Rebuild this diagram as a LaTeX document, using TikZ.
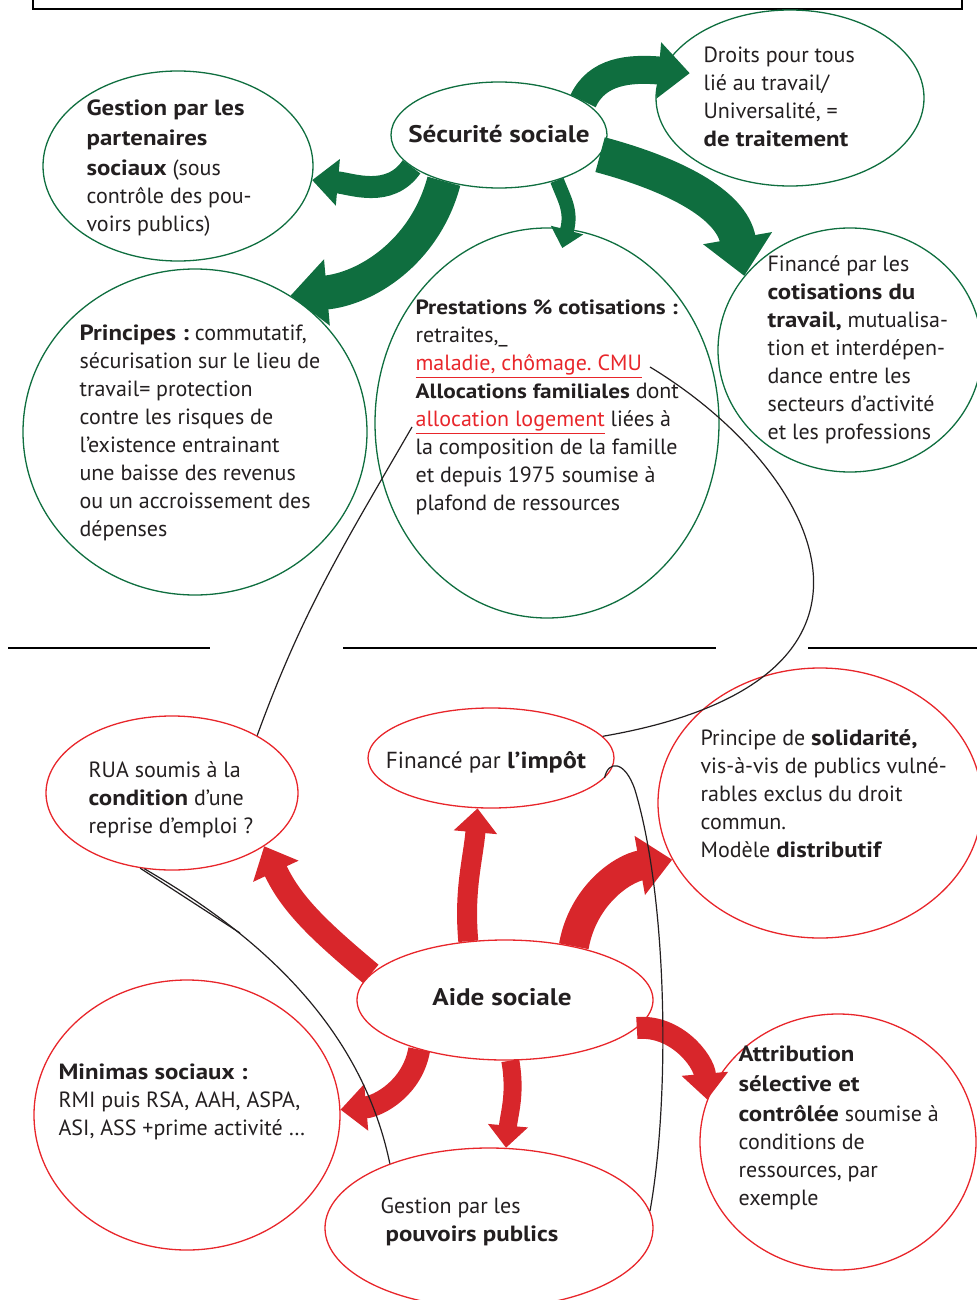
\documentclass[tikz,border=0pt]{standalone}
\usepackage{fontspec}
\setmainfont{PT Sans}[BoldFeatures={FakeStretch=1.13}]
\usetikzlibrary{arrows.meta,shapes.geometric,positioning}
\definecolor{vertfonce}{HTML}{0F6E3F}
\definecolor{rougevif}{HTML}{E8262B}
\definecolor{rougefl}{HTML}{D8262B}
\definecolor{encre}{HTML}{231F20}
\newcommand{\soulrouge}[1]{\textcolor{rougevif}{\underline{#1}}}
\newcommand{\grasfin}[1]{{\fontsize{10.3}{14}\selectfont\bfseries #1}}
\frenchspacing

\begin{document}
\begin{tikzpicture}[x=0.5pt,y=-0.5pt,
  font=\fontsize{11}{14}\selectfont, line width=0.6pt,
  bulleV/.style={ellipse, draw=vertfonce, line width=0.65pt, inner sep=0pt},
  bulleR/.style={ellipse, draw=rougevif, line width=0.65pt, inner sep=0pt},
  texte/.style={anchor=north west, align=left, inner sep=0pt, text=encre, execute at begin node=\strut},
  titre/.style={inner sep=0pt, text=encre, font=\fontsize{12}{14}\selectfont\bfseries},
  flecheV/.style={draw=vertfonce, line cap=butt, -{Triangle[length=3pt 0.9, width=5pt 1.6]}},
  flecheR/.style={draw=rougefl, line cap=butt, -{Triangle[length=3pt 0.9, width=5pt 1.6]}},
  lien/.style={draw=encre, line width=0.6pt}
]
\useasboundingbox (0,0) rectangle (977,1300);

% cadre du haut et separations
\draw[line width=0.8pt] (33,-20) rectangle (962,9);
\foreach \a/\b in {8/210, 343/716, 808/977}
  \draw[line width=0.8pt] (\a,648) -- (\b,648);

% securite sociale
\node[bulleV, minimum width=108pt, minimum height=53pt] (secu) at (499,135) {};
\node[titre] (tsecu) at (499,134) {Sécurité sociale};
\node[bulleV, minimum width=135pt, minimum height=95pt] (part) at (178,166) {};
\node[bulleV, minimum width=134pt, minimum height=88pt] (droits) at (790,98) {};
\node[bulleV, minimum width=172pt, minimum height=163pt] (princ) at (195,432) {};
\node[bulleV, minimum width=172pt, minimum height=195pt] (prest) at (547,423) {};
\node[bulleV, minimum width=132pt, minimum height=122pt] (fin) at (850,350) {};

\node[texte] (tpart) at (86,99) {\textbf{Gestion par les}\\[1pt] \textbf{partenaires}\\[1pt] \textbf{sociaux} (sous\\ contrôle des pou-\\ voirs publics)};
\node[texte] (tdroits) at (703,46) {Droits pour tous\\ lié au travail/\\ Universalité, =\\ \textbf{de traitement}};
\node[texte] (tprinc) at (79,324) {\textbf{Principes :} commutatif,\\ sécurisation sur le lieu de\\ travail= protection\\ contre les risques de\\ l’existence entrainant\\ une baisse des revenus\\ ou un accroissement des\\ dépenses};
\node[texte] (tprest) at (415,299) {\grasfin{Prestations \% cotisations :}\\ retraites,\textunderscore\\ \soulrouge{maladie, chômage. CMU}\\ \grasfin{Allocations familiales} dont\\ \soulrouge{allocation logement} liées à\\ la composition de la famille\\ et depuis 1975 soumise à\\ plafond de ressources};
\node[texte] (tfin) at (767,255) {Financé par les\\ \textbf{cotisations du}\\ \textbf{travail,} mutualisa-\\ tion et interdépen-\\ dance entre les\\ secteurs d’activité\\ et les professions};

\draw[flecheV, line width=11pt] (secu.200) to[out=235,in=355] (part.354);
\draw[flecheV, line width=17pt] (secu.220) to[out=255,in=5] (princ.55);
\draw[flecheV, line width=7pt, shorten >=-10pt] (secu.322) to[out=290,in=75] (prest.84);
\draw[flecheV, line width=14pt, shorten >=-14pt] (secu.22) to[out=65,in=175] (droits.168);
\draw[flecheV, line width=18pt] (secu.349) to[out=-15,in=100] (fin.145);

% aide sociale
\node[bulleR, minimum width=126pt, minimum height=77pt] (rua) at (172,793) {};
\node[bulleR, minimum width=123pt, minimum height=50pt] (impot) at (491,758) {};
\node[inner sep=0pt, text=encre, font=\fontsize{11.6}{14}\selectfont] (timpot) at (486,762) {Financé par \textbf{l’impôt}};
\node[bulleR, minimum width=162pt, minimum height=135pt] (solid) at (820,803) {};
\node[bulleR, minimum width=148pt, minimum height=60pt] (aide) at (505,1000) {};
\node[titre] (taide) at (502,997) {Aide sociale};
\node[bulleR, minimum width=153pt, minimum height=135pt] (minimas) at (187,1115) {};
\node[bulleR, minimum width=164pt, minimum height=80pt] (gpp) at (489,1228) {};
\node[bulleR, minimum width=138pt, minimum height=128pt] (attr) at (838,1142) {};

\node[texte] (trua) at (88,761) {RUA soumis à la\\ \textbf{condition} d’une\\ reprise d’emploi ?};
\node[texte] (tsolid) at (700,729) {Principe de \textbf{solidarité,}\\ vis-à-vis de publics vulné-\\ rables exclus du droit\\ commun.\\ Modèle \textbf{distributif}};
\node[texte] (tmin) at (58,1063) {\textbf{Minimas sociaux :}\\ RMI puis RSA, AAH, ASPA,\\ ASI, ASS +prime activité …};
\node[texte] (tgpp) at (380,1197) {Gestion par les\\ \hspace{2.5pt}\textbf{pouvoirs publics}};
\node[texte] (tattr) at (738,1045) {\textbf{Attribution}\\[1pt] \textbf{sélective et}\\[1pt] \textbf{contrôlée} soumise à\\ conditions de\\ ressources, par\\ exemple};

\draw[flecheR, line width=12pt] (aide.169) to[out=140,in=295] (rua.330);
\draw[flecheR, line width=10pt] (aide.122) to[out=95,in=265] (impot.255);
\draw[flecheR, line width=15pt] (aide.38) to[out=80,in=190] (solid.201);
\draw[flecheR, line width=11pt] (aide.210) to[out=260,in=5] (minimas.2);
\draw[flecheR, line width=9pt] (aide.275) to[out=-80,in=85] (gpp.78);
\draw[flecheR, line width=11pt] (aide.348) to[out=5,in=95] (attr.162);

% liens
\coordinate (logement) at (412,427);
\coordinate (cmu) at (650,367);
\coordinate (coupure) at (240,933);
\draw[lien] (logement) to[out=240,in=70] (rua.34);
\draw[lien] (cmu) .. controls (820,470) and (930,680) .. (impot.11);
\draw[lien] (impot.350) .. controls (608,760) and (625,760) .. (635,790)
  .. controls (668,900) and (670,1100) .. (gpp.6);
\draw[lien] (rua.247) -- (coupure);
\draw[lien] (rua.250) .. controls (250,930) and (360,1020) .. (gpp.147);
\end{tikzpicture}
\end{document}
